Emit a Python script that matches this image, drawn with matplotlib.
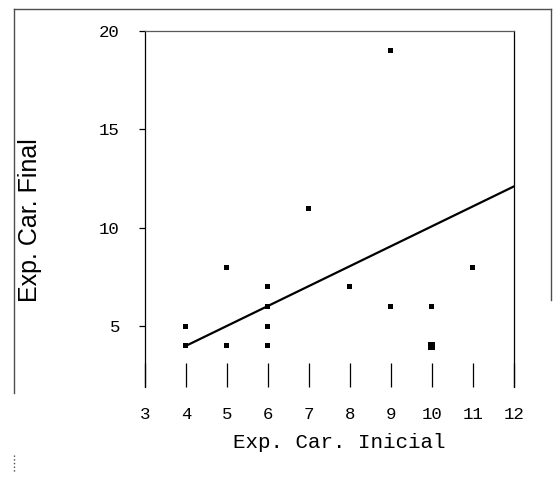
import numpy as np
import matplotlib.pyplot as plt
from matplotlib.lines import Line2D

# experiencia carcelaria: inicial vs final
exp_inicial = [4, 4, 5, 5, 6, 6, 6, 6, 7, 8, 9, 9, 10, 10, 11]
exp_final = [4, 5, 8, 4, 7, 6, 5, 4, 11, 7, 6, 19, 6, 4, 8]
n_casos = [1, 1, 1, 1, 1, 1, 1, 1, 1, 1, 1, 1, 1, 2, 1]

# recta ajustada
recta_x = [4, 12]
recta_y = [4, 12.1]

xticks = [3, 4, 5, 6, 7, 8, 9, 10, 11, 12]
yticks = [5, 10, 15, 20]

fig = plt.figure(figsize=(5.53, 4.78), dpi=100)
ax = fig.add_axes([0.262, 0.190, 0.667, 0.745])

tam = np.array(n_casos) * 14
ax.scatter(exp_inicial, exp_final, s=tam, marker='s', color='k', linewidths=0)
ax.plot(recta_x, recta_y, color='k', lw=1.6)

ax.set_xlim(3, 12)
ax.set_ylim(1.9, 20)

ax.spines['bottom'].set_visible(False)
for lado in ['left', 'right', 'top']:
    ax.spines[lado].set_linewidth(0.9)
ax.spines['top'].set_color('0.35')

ax.set_xticks(xticks)
ax.set_yticks(yticks)
ax.tick_params(axis='x', direction='in', length=17, width=0.9, pad=14,
               labelsize=12.5)
ax.tick_params(axis='y', direction='out', length=4, width=0.9, pad=14,
               labelsize=12.5)
for t in ax.get_xticklabels() + ax.get_yticklabels():
    t.set_fontfamily('Liberation Mono')

ax.set_xlabel('Exp. Car. Inicial', family='Liberation Mono', fontsize=15)
ax.xaxis.set_label_coords(0.528, -0.13)
ax.set_ylabel('Exp. Car. Final', family='Liberation Sans', fontsize=18)
ax.yaxis.set_label_coords(-0.279, 0.47)

# marco exterior
W, H = 553, 478
def linea(x0, y0, x1, y1, **kw):
    fig.add_artist(Line2D([x0 / W, x1 / W], [1 - y0 / H, 1 - y1 / H],
                          color='0.3', lw=1, **kw))

linea(14, 9, 551, 9)
linea(14, 9, 14, 393)
linea(551, 9, 551, 300)
linea(14, 455, 14, 472, ls=':')

fig.savefig('out.png', dpi=100)
